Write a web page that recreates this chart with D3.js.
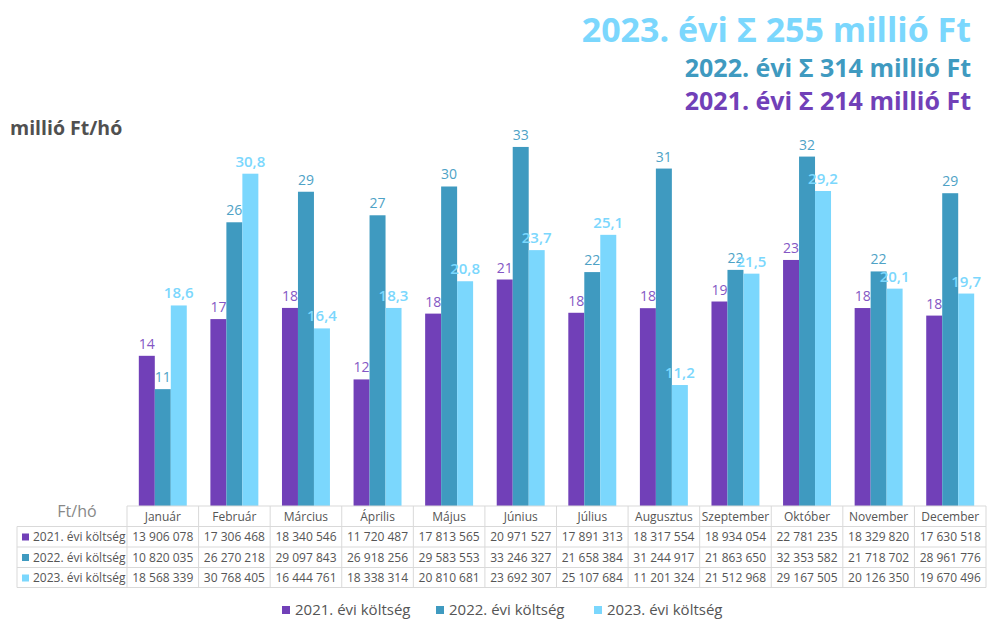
<!DOCTYPE html>
<html>
<head>
<meta charset="utf-8">
<script src="https://cdn.jsdelivr.net/npm/d3@7"></script>
<style>
  body { margin: 0; background: #fff; }
  svg { font-family: "Open Sans", sans-serif; display: block; }
</style>
</head>
<body>
<svg id="chart"></svg>
<script>
const width = 987;
const height = 619;

// Data
const months = ["Január", "Február", "Március", "Április", "Május", "Június", "Július",
  "Augusztus", "Szeptember", "Október", "November", "December"];
const series = ["2021. évi költség", "2022. évi költség", "2023. évi költség"];
const cost2021 = [13906078, 17306468, 18340546, 11720487, 17813565, 20971527, 17891313,
  18317554, 18934054, 22781235, 18329820, 17630518];
const cost2022 = [10820035, 26270218, 29097843, 26918256, 29583553, 33246327, 21658384,
  31244917, 21863650, 32353582, 21718702, 28961776];
const cost2023 = [18568339, 30768405, 16444761, 18338314, 20810681, 23692307, 25107684,
  11201324, 21512968, 29167505, 20126350, 19670496];
const totals = ["2023. évi Σ 255 millió Ft", "2022. évi Σ 314 millió Ft", "2021. évi Σ 214 millió Ft"];

const colors = ["#7140b8", "#3f9ac0", "#7bd7fd"];
const values = [cost2021, cost2022, cost2023];

const margin = { top: 128, right: 1, bottom: 113, left: 127 };
const baseY = height - margin.bottom;

const svg = d3.select("#chart").attr("width", width).attr("height", height);

// scales
const x0 = d3.scaleBand()
  .domain(months)
  .range([margin.left, width - margin.right])
  .paddingInner(0.33)
  .paddingOuter(0.165);

const x1 = d3.scaleBand()
  .domain(series)
  .range([0, x0.bandwidth()]);

const y = d3.scaleLinear()
  .domain([0, 35])
  .range([baseY, baseY - 378]);

const fmtThousands = (v) => d3.format(",")(v).replace(/,/g, " ");

// bars
const groups = svg.selectAll(".month")
  .data(months)
  .enter()
  .append("g")
  .attr("class", "month")
  .attr("transform", (d) => `translate(${x0(d)},0)`);

series.forEach((s, si) => {
  groups.append("rect")
    .attr("x", x1(s))
    .attr("y", (d, i) => y(values[si][i] / 1e6))
    .attr("width", x1.bandwidth())
    .attr("height", (d, i) => baseY - y(values[si][i] / 1e6))
    .style("fill", colors[si]);
});

// data labels
series.forEach((s, si) => {
  groups.append("text")
    .attr("x", x1(s) + x1.bandwidth() / 2)
    .attr("y", (d, i) => y(values[si][i] / 1e6) - 7)
    .attr("text-anchor", "middle")
    .style("font-size", si === 2 ? "15px" : "14px")
    .style("font-weight", si === 2 ? "600" : "400")
    .style("fill", si === 0 ? "#8457c4" : si === 1 ? "#4ea2c6" : colors[2])
    .text((d, i) => {
      const v = values[si][i] / 1e6;
      return si === 2 ? v.toFixed(1).replace(".", ",") : Math.round(v);
    });
});

// titles
const titleSizes = [34, 25, 25];
const titleY = [42, 77, 110];
const titleColors = [colors[2], colors[1], colors[0]];
totals.forEach((t, i) => {
  svg.append("text")
    .attr("x", 971)
    .attr("y", titleY[i])
    .attr("text-anchor", "end")
    .style("font-size", titleSizes[i] + "px")
    .style("font-weight", "700")
    .style("fill", titleColors[i])
    .text(t);
});

svg.append("text")
  .attr("x", 10)
  .attr("y", 135)
  .style("font-size", "19.5px")
  .style("font-weight", "700")
  .style("fill", "#505050")
  .text("millió Ft/hó");

// data table
const tableTop = baseY;
const rowH = [20.5, 20.5, 20.5, 20];
const rowTop = [tableTop];
rowH.forEach((h, i) => rowTop.push(rowTop[i] + h));
const labelLeft = 17;
const gridColor = "#d9d9d9";
const textColor = "#555";
const step = (width - margin.right - margin.left) / months.length;

const table = svg.append("g").attr("class", "table");

// horizontal lines
rowTop.forEach((ty, i) => {
  table.append("line")
    .attr("x1", i === 0 ? margin.left : labelLeft)
    .attr("x2", width - margin.right)
    .attr("y1", ty).attr("y2", ty)
    .style("stroke", gridColor);
});
// vertical lines
d3.range(months.length + 1).forEach((k) => {
  table.append("line")
    .attr("x1", margin.left + k * step).attr("x2", margin.left + k * step)
    .attr("y1", rowTop[0]).attr("y2", rowTop[4])
    .style("stroke", gridColor);
});
table.append("line")
  .attr("x1", labelLeft).attr("x2", labelLeft)
  .attr("y1", rowTop[1]).attr("y2", rowTop[4])
  .style("stroke", gridColor);

// header
table.selectAll(".hdr")
  .data(months)
  .enter()
  .append("text")
  .attr("x", (d) => x0(d) + x0.bandwidth() / 2)
  .attr("y", rowTop[0] + 14.5)
  .attr("text-anchor", "middle")
  .style("font-size", "12px")
  .style("fill", textColor)
  .text((d) => d);

table.append("text")
  .attr("x", 77)
  .attr("y", rowTop[0] + 11)
  .attr("text-anchor", "middle")
  .style("font-size", "16px")
  .style("fill", "#888")
  .text("Ft/hó");

series.forEach((s, si) => {
  const cy = rowTop[si + 1];
  table.append("rect")
    .attr("x", 22).attr("y", cy + 7)
    .attr("width", 7).attr("height", 7)
    .style("fill", colors[si]);
  table.append("text")
    .attr("x", 33).attr("y", cy + 14.5)
    .style("font-size", "12px")
    .style("fill", textColor)
    .text(s);
  table.selectAll(".cell" + si)
    .data(values[si])
    .enter()
    .append("text")
    .attr("x", (d, i) => x0(months[i]) + x0.bandwidth() / 2)
    .attr("y", cy + 14.5)
    .attr("text-anchor", "middle")
    .style("font-size", "12px")
    .style("fill", textColor)
    .text((d) => fmtThousands(d));
});

// legend
const legendX = [282, 436, 594];
series.forEach((s, si) => {
  svg.append("rect")
    .attr("x", legendX[si]).attr("y", 606)
    .attr("width", 8).attr("height", 8)
    .style("fill", colors[si]);
  svg.append("text")
    .attr("x", legendX[si] + 13).attr("y", 615)
    .style("font-size", "15px")
    .style("fill", textColor)
    .text(s);
});
</script>
</body>
</html>
